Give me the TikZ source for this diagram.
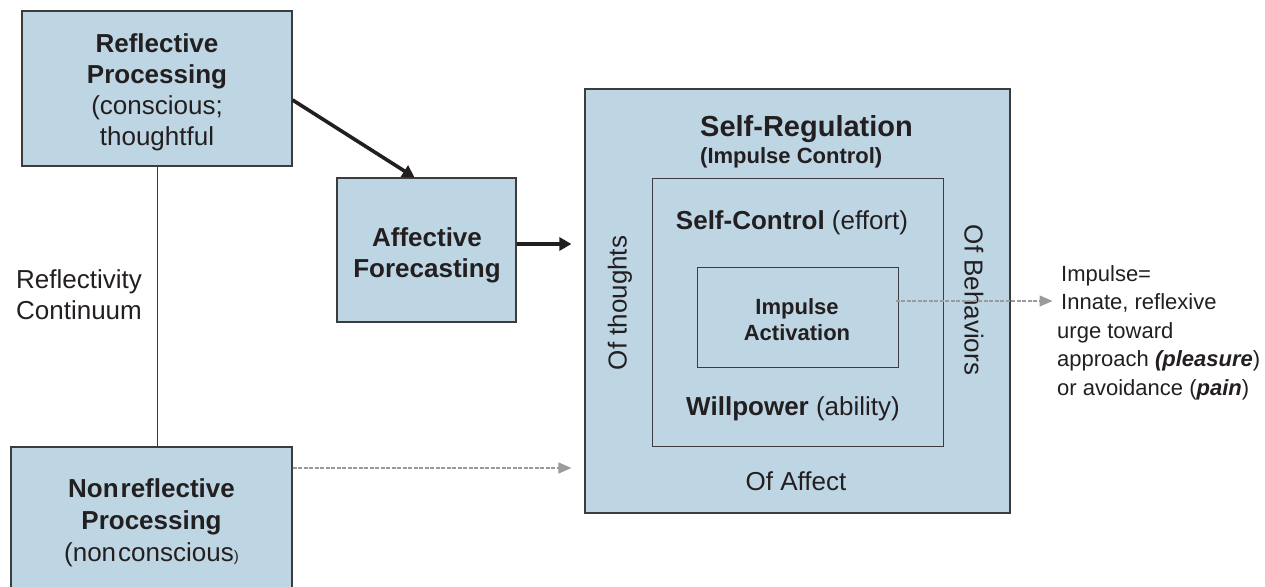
\documentclass[tikz,border=0pt]{standalone}
\usepackage{fontspec}
\setmainfont{Liberation Sans}
\usetikzlibrary{arrows.meta,calc}
\definecolor{boxfill}{RGB}{190,214,227}
\definecolor{boxline}{RGB}{60,60,60}
\definecolor{txt}{RGB}{35,31,32}
\definecolor{dashgray}{RGB}{155,155,155}
\tikzset{
  bx/.style={draw=boxline, line width=1.2pt, fill=boxfill, inner sep=0pt, align=center, text=txt},
  ibx/.style={draw=boxline, line width=1pt, inner sep=0pt},
  lbl/.style={inner sep=0pt, text=txt, align=center},
  big/.style={font=\fontsize{26}{31}\selectfont},
  small/.style={font=\fontsize{22}{26}\selectfont},
  solidarrow/.style={line width=3.6pt, -{Triangle[length=12pt,width=13pt]}, txt},
  dasharrow/.style={line width=1.3pt, dashgray, dash pattern=on 4pt off 1.5pt, -{Triangle[length=13pt,width=11pt]}},
  thinline/.style={draw=boxline, line width=1pt}
}
\begin{document}
\begin{tikzpicture}[x=1pt,y=-1pt]
\useasboundingbox (0,0) rectangle (1265,586);
% left boxes
\node[bx, minimum width=270pt, minimum height=155pt] (refl) at (157,88.5) {};
\node[lbl, big] (refltxt) at (157,92.5)
  {\textbf{Reflective}\\\textbf{Processing}\\(conscious;\\thoughtful};
\node[bx, font=\fontsize{26}{32}\selectfont, minimum width=281pt, minimum height=152pt] (nonrefl) at (151.5,523)
  {\textbf{Non\kern2pt reflective}\\\textbf{Processing}\\(non\kern2pt conscious{\fontsize{15}{15}\selectfont)}};
\draw[thinline] (refl.south) -- (refl.south |- nonrefl.north);
\node[lbl, big] (cont) at (79,295) {Reflectivity\\Continuum};
% affective forecasting
\node[bx, minimum width=179pt, minimum height=144pt] (aff) at (426.5,250) {};
\node[lbl, big] (afftxt) at (427,255) {\textbf{Affective}\\\textbf{Forecasting}};
% self-regulation boxes
\node[bx, minimum width=425pt, minimum height=424pt] (outer) at (797.5,301) {};
\node[ibx, minimum width=291pt, minimum height=268pt] (mid) at (797.5,312) {};
\node[ibx, minimum width=201pt, minimum height=100pt] (inner) at (797.5,317) {};
\node[lbl, anchor=west, font=\fontsize{29}{34}\selectfont\bfseries] (sr) at (700,129) {Self-Regulation};
\node[lbl, anchor=west, font=\fontsize{22}{26}\selectfont\bfseries] (ic) at (700,158) {(Impulse Control)};
\node[lbl, big] (sc) at (792,223) {\textbf{Self-Control} (effort)};
\node[lbl, small] (ia) at (797,320) {\textbf{Impulse}\\\textbf{Activation}};
\node[lbl, big] (wp) at (793,409) {\textbf{Willpower} (ability)};
\node[lbl, big] (oa) at (796,481) {Of Affect};
\node[lbl, big, rotate=90] (ot) at (620,303) {Of thoughts};
\node[lbl, big, rotate=-90] (ob) at (974,300) {Of Behaviors};
% impulse description
\node[lbl, font=\fontsize{22}{28.5}\selectfont, anchor=north west, align=left] (imp) at (1057,265)
  {\hspace{4pt}Impulse=\\\hspace{4pt}Innate, reflexive\\urge toward\\approach \textbf{\textit{(pleasure}})\\or avoidance (\textbf{\textit{pain}})};
% connectors
\coordinate (a1s) at ($(refl.east)+(0,11.5)$);
\coordinate (a1e) at ($(aff.north)+(-12,0)$);
\draw[solidarrow] (a1s) -- (a1e);
\coordinate (a2s) at ($(aff.east)+(0,-6)$);
\coordinate (a2e) at ($(outer.west |- a2s)+(-13,0)$);
\draw[solidarrow] (a2s) -- (a2e);
\coordinate (d1s) at ($(nonrefl.east)+(0,-55)$);
\coordinate (d1e) at ($(outer.west |- d1s)+(-13,0)$);
\draw[dasharrow] (d1s) -- (d1e);
\coordinate (d2s) at ($(inner.east)+(-3,-16)$);
\coordinate (d2e) at ($(d2s)+(157,0)$);
\draw[dasharrow] (d2s) -- (d2e);
\end{tikzpicture}
\end{document}
